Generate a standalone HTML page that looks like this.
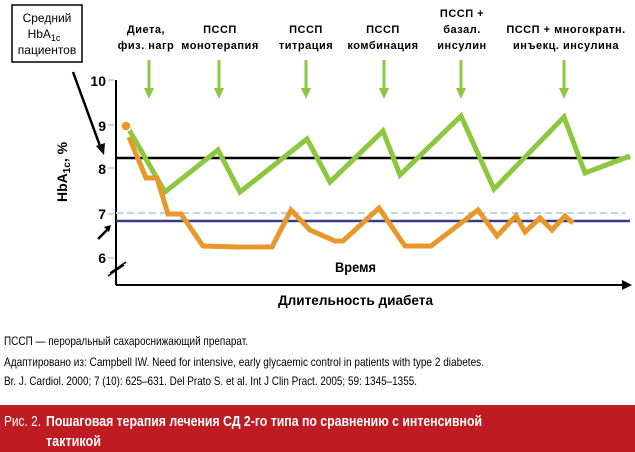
<!DOCTYPE html>
<html><head><meta charset="utf-8"><style>
body{margin:0;background:#fff;width:635px;height:452px;overflow:hidden;position:relative;font-family:"Liberation Sans",sans-serif}
svg{position:absolute;left:0;top:0}
.t{font-family:"Liberation Sans",sans-serif}
</style></head><body>
<svg width="635" height="452" viewBox="0 0 635 452">
<rect x="12" y="5" width="70" height="57" fill="#fff" stroke="#000" stroke-width="1.5"/>
<text class="t" x="47" y="22" font-size="12" text-anchor="middle">Средний</text>
<text class="t" x="44" y="38" font-size="12" text-anchor="middle">HbA<tspan font-size="9" dy="3">1c</tspan></text>
<text class="t" x="47" y="54" font-size="12" text-anchor="middle">пациентов</text>
<g class="t" font-size="11" font-weight="bold" text-anchor="middle" letter-spacing="0.5">
<text x="146" y="33">Диета,</text><text x="146" y="49">физ. нагр</text>
<text x="220" y="33">ПССП</text><text x="220" y="49">монотерапия</text>
<text x="306" y="33">ПССП</text><text x="306" y="49">титрация</text>
<text x="383" y="33">ПССП</text><text x="383" y="49">комбинация</text>
<text x="462" y="17">ПССП +</text><text x="462" y="33">базал.</text><text x="462" y="49">инсулин</text>
<text x="566" y="33">ПССП + многократн.</text><text x="566" y="49">инъекц. инсулина</text>
</g>
<g stroke="#8dc63f" stroke-width="3" fill="#8dc63f">
<line x1="149" y1="60" x2="149" y2="90"/><polygon points="144,88 154,88 149,99" stroke="none"/>
<line x1="219" y1="60" x2="219" y2="90"/><polygon points="214,88 224,88 219,99" stroke="none"/>
<line x1="306" y1="60" x2="306" y2="90"/><polygon points="301,88 311,88 306,99" stroke="none"/>
<line x1="384" y1="60" x2="384" y2="90"/><polygon points="379,88 389,88 384,99" stroke="none"/>
<line x1="461" y1="60" x2="461" y2="90"/><polygon points="456,88 466,88 461,99" stroke="none"/>
<line x1="564" y1="60" x2="564" y2="90"/><polygon points="559,88 569,88 564,99" stroke="none"/>
</g>
<line x1="73" y1="72" x2="100" y2="146" stroke="#000" stroke-width="2.5"/>
<polygon points="96,146 105,143 104,155" fill="#000"/>
<line x1="98" y1="239" x2="108" y2="229" stroke="#000" stroke-width="2.5"/>
<polygon points="104,227 111,225 109,232" fill="#000"/>
<g class="t" font-size="14" font-weight="bold" text-anchor="end">
<text x="106" y="86">10</text><text x="106" y="131">9</text><text x="106" y="174">8</text><text x="106" y="219">7</text><text x="106" y="263">6</text>
</g>
<text class="t" font-size="14" font-weight="bold" transform="translate(67,202) rotate(-90)">HbA<tspan font-size="10" dy="3">1c</tspan><tspan dy="-3">, %</tspan></text>
<g stroke="#a8d4e0" stroke-width="1.5"><line x1="108" y1="80" x2="114" y2="80"/><line x1="108" y1="125" x2="114" y2="125"/><line x1="108" y1="168" x2="114" y2="168"/><line x1="108" y1="214" x2="114" y2="214"/><line x1="108" y1="258" x2="114" y2="258"/></g>
<line x1="108" y1="276" x2="124" y2="265" stroke="#000" stroke-width="1.5"/>
<line x1="110" y1="273" x2="126" y2="262" stroke="#000" stroke-width="1.5"/>
<line x1="116" y1="80" x2="116" y2="285" stroke="#000" stroke-width="2"/>
<line x1="116" y1="285" x2="625" y2="285" stroke="#000" stroke-width="2"/>
<polygon points="622,280 632,285 622,290" fill="#000"/>
<line x1="116" y1="158" x2="630" y2="158" stroke="#000" stroke-width="2.5"/>
<line x1="116" y1="213" x2="625" y2="213" stroke="#b5d8e3" stroke-width="2" stroke-dasharray="7,4"/>
<line x1="116" y1="221" x2="630" y2="221" stroke="#3a3a8c" stroke-width="2.5"/>
<polyline fill="none" stroke="#8dc63f" stroke-width="5" points="128,128 165,192 218,150 240,192 307,139 330,182 383,131 400,175 461,116 494,189 564,117 585,173 630,156"/>
<polyline fill="none" stroke="#e8982a" stroke-width="5" points="129,137 146,178 157,178 168,214 181,214 203,246 238,247 272,247 291,210 310,230 335,241 343,241 379,208 405,246 431,246 478,210 497,236 516,216 525,232 540,218 552,230 565,216 573,223"/>
<circle cx="126" cy="126" r="5" fill="#e8982a" stroke="#fff" stroke-width="1.5"/>
<text class="t" x="335" y="272" font-size="14" font-weight="bold" textLength="41" lengthAdjust="spacingAndGlyphs">Время</text>
<text class="t" x="278" y="305" font-size="14" font-weight="bold" textLength="155" lengthAdjust="spacingAndGlyphs">Длительность диабета</text>
<g class="t" font-size="12">
<text x="4" y="345" textLength="244" lengthAdjust="spacingAndGlyphs">ПССП — пероральный сахароснижающий препарат.</text>
<text x="4" y="366" textLength="480" lengthAdjust="spacingAndGlyphs">Адаптировано из: Campbell IW. Need for intensive, early glycaemic control in patients with type 2 diabetes.</text>
<text x="4" y="385" textLength="413" lengthAdjust="spacingAndGlyphs">Br. J. Cardiol. 2000; 7 (10): 625–631. Del Prato S. et al. Int J Clin Pract. 2005; 59: 1345–1355.</text>
</g>
<rect x="0" y="405" width="635" height="47" fill="#be1b22"/>
<text class="t" x="4" y="426" font-size="15" fill="#fff" textLength="37" lengthAdjust="spacingAndGlyphs">Рис. 2.</text>
<text class="t" x="46" y="426" font-size="15" fill="#fff" font-weight="bold" textLength="436" lengthAdjust="spacingAndGlyphs">Пошаговая терапия лечения СД 2-го типа по сравнению с интенсивной</text>
<text class="t" x="46" y="446" font-size="15" fill="#fff" font-weight="bold" textLength="55" lengthAdjust="spacingAndGlyphs">тактикой</text>
</svg>
</body></html>
